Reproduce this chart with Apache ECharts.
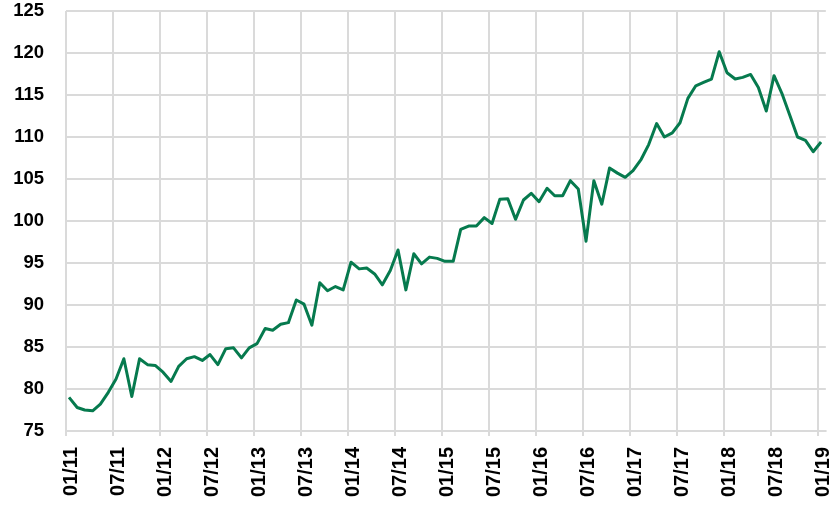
<!DOCTYPE html>
<html>
<head>
<meta charset="utf-8">
<script src="https://cdn.jsdelivr.net/npm/echarts@6/dist/echarts.min.js"></script>
<style>
html,body{margin:0;padding:0;background:#fff;}
#chart{width:833px;height:512px;}
</style>
</head>
<body>
<div id="chart"></div>
<script>
// Monthly index values, Jan 2011 .. Jan 2019 (observations dated mid-month)
const startYear = 2011;
const values = [
  79.0, 77.8, 77.5, 77.4, 78.2, 79.6, 81.2, 83.6, 79.1, 83.6, 82.9, 82.8,
  82.0, 80.9, 82.7, 83.6, 83.85, 83.4, 84.1, 82.9, 84.8, 84.9, 83.7, 84.9,
  85.4, 87.2, 87.0, 87.7, 87.9, 90.6, 90.1, 87.6, 92.65, 91.7, 92.2, 91.8,
  95.1, 94.3, 94.4, 93.7, 92.4, 94.1, 96.55, 91.8, 96.1, 94.9, 95.7, 95.55,
  95.2, 95.2, 99.0, 99.4, 99.4, 100.4, 99.7, 102.6, 102.65, 100.2, 102.5, 103.3,
  102.3, 103.9, 103.0, 103.0, 104.8, 103.8, 97.6, 104.8, 102.0, 106.3, 105.7, 105.2,
  106.0, 107.35, 109.1, 111.6, 110.0, 110.5, 111.7, 114.6, 116.1, 116.5, 116.9, 120.15,
  117.65, 116.9, 117.1, 117.45, 115.9, 113.1, 117.3, 115.2, 112.6, 110.0, 109.6, 108.25,
  109.4
];
const tickLabels = ['01/11','07/11','01/12','07/12','01/13','07/13','01/14','07/14',
  '01/15','07/15','01/16','07/16','01/17','07/17','01/18','07/18','01/19'];
const yTicks = [75, 80, 85, 90, 95, 100, 105, 110, 115, 120, 125];
const obsDay = 13; // day of month of each observation

// x in months since Jan 2011 (fractional for the day in the month)
const seriesData = values.map(function (v, i) {
  const y = startYear + Math.floor(i / 12);
  const m = i % 12;
  const dim = new Date(y, m + 1, 0).getDate();
  return [i + (obsDay - 1) / dim, v];
});

const chart = echarts.init(document.getElementById('chart'), null, {renderer: 'canvas'});
const gridColor = '#DADADA';
chart.setOption({
  animation: false,
  backgroundColor: '#ffffff',
  grid: {left: 66, right: 7, top: 11, bottom: 81, containLabel: false},
  xAxis: {
    type: 'value',
    min: 0,
    max: (tickLabels.length - 1) * 6 + 1,
    interval: 6,
    axisLine: {show: true, lineStyle: {color: gridColor, width: 2}},
    axisTick: {show: true, length: 5, lineStyle: {color: gridColor, width: 2}},
    splitLine: {show: true, showMinLine: true, showMaxLine: false,
      lineStyle: {color: gridColor, width: 2}},
    axisLabel: {
      rotate: 90,
      margin: 16,
      showMaxLabel: false,
      verticalAlign: 'top',
      lineHeight: 10,
      color: '#000',
      fontFamily: 'Liberation Sans',
      fontWeight: 'bold',
      fontSize: 20,
      formatter: function (v) {
        const k = Math.round(v);
        if (k % 6 !== 0 || Math.abs(v - k) > 1e-6) return '';
        return tickLabels[k / 6] || '';
      }
    }
  },
  yAxis: {
    type: 'value',
    min: yTicks[0],
    max: yTicks[yTicks.length - 1],
    interval: yTicks[1] - yTicks[0],
    axisLine: {show: false},
    axisTick: {show: false},
    splitLine: {show: true, lineStyle: {color: gridColor, width: 2}},
    axisLabel: {
      margin: 22,
      color: '#000',
      fontFamily: 'Liberation Sans',
      fontWeight: 'bold',
      fontSize: 18.5
    }
  },
  series: [{
    type: 'line',
    data: seriesData,
    showSymbol: false,
    symbol: 'none',
    smooth: false,
    lineStyle: {color: '#067A4E', width: 3, join: 'round'},
    itemStyle: {color: '#067A4E'}
  }]
});
</script>
</body>
</html>
